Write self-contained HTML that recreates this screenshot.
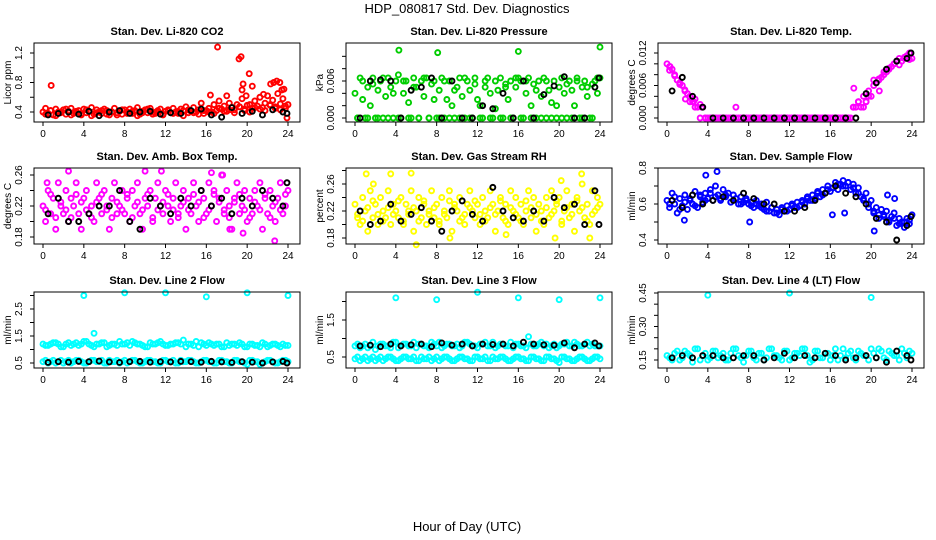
<!DOCTYPE html>
<html><head><meta charset="utf-8"><style>
html,body{margin:0;padding:0;background:#fff;}
svg{display:block;font-family:"Liberation Sans",Arial,sans-serif;}
</style></head><body>
<svg id="chart" width="936" height="540" viewBox="0 0 936 540">
<text x="467" y="13" font-size="13" text-anchor="middle">HDP_080817  Std. Dev. Diagnostics</text>
<text x="467" y="531" font-size="13" text-anchor="middle">Hour of Day (UTC)</text>
</svg>
<script>
// ---- data ----
const blackHours=[0.5,1.5,2.5,3.5,4.5,5.5,6.5,7.5,8.5,9.5,10.5,11.5,12.5,13.5,14.5,15.5,16.5,17.5,18.5,19.5,20.5,21.5,22.5,23.5,23.9];
const xTicks=[0,4,8,12,16,20,24];

const co2Main=[.40,.45,.38,.42,.36,.44,.40,.39,.43,.37,.41,.45,.38,.40,.42,.36,.44,.39,.41,.46,.37,.43,.40,.38,.44,.42,.36,.40,.45,.39,.41,.37,.43,.40,.44,.38,.42,.46,.37,.41,.43,.39,.45,.40,.38,.42,.44,.37,.41,.43,.39,.45,.40,.38,.44,.42,.47,.39,.41,.46,.40,.43,.52,.38,.42,.45,.40,.50,.42,.55,.44,.48,.41,.52,.46,.43,.50,.47,.58,.44,.49,.50,.45,.55,.48,.60,.46,.52,.62,.49,.56,.47,.65,.51,.58,.45,.50];
const co2Band=[.37,.42,.35,.40,.44,.36,.41,.38,.43,.35,.39,.42,.37,.40,.36,.43,.38,.41,.35,.39,.44,.37,.40,.36,.42,.38,.41,.35,.43,.39,.37,.42,.40,.38,.45,.41,.43,.39,.47,.42,.40,.46,.44,.42,.50,.45,.43,.48];
const co2OutHours=[0.8,16.4,17.1,18,19.2,19.4,19.5,19.6,20.2,20.5,21.6,22.3,22.6,22.9,23.2,23.4,23.6,19.9,23.9];
const co2OutVals=[0.76,0.63,1.28,0.62,1.12,1.15,0.70,0.78,0.92,0.75,0.64,0.78,0.80,0.82,0.80,0.70,0.71,0.62,0.32];
const co2Black=[.36,.38,.40,.37,.41,.35,.40,.42,.38,.40,.41,.37,.39,.38,.42,.44,.36,.33,.46,.38,.41,.36,.43,.40,.38];

const presMain=[.004,0,.0065,.003,0,.005,.002,.0065,0,.0045,.006,0,.0035,.0065,.005,0,.006,.007,0,.004,.006,.0025,0,.0065,.005,0,.006,.0035,.0065,0,.0055,.006,0,.0045,.0065,0,.003,.006,.002,0,.005,.0065,.0035,0,.006,.0045,0,.0065,.003,.002,0,.005,.0065,.004,0,.006,.0045,.0065,0,.0055,.003,.006,0,.005,.0065,.006,0,.004,.0065,.002,.0055,0,.006,.0035,.0065,0,.0045,.0025,.006,0,.005,.0065,.004,0,.006,.0045,.002,.0065,0,.005,.006,.0035,0,.0055,.006,.004,.0065];
const presBand=[0,.006,0,.0055,0,.0065,0,.004,0,.006,0,.005,0,.0065,0,.003,0,.006,0,.0045,0,.0065,0,.0055,0,.006,0,.0015,0,.005,0,.0065,0,.006,0,.0045,0,.006,0,.002,0,.0055,0,.006,0,.005,0,.0065];
const presOutHours=[4.3,8.1,16,24];
const presOutVals=[.011,.0106,.0108,.0115];
const presBlack=[0,.006,.0062,.006,0,.0045,.005,.0065,0,.006,0,0,.002,.0015,.004,0,.006,0,.0038,.0052,.0067,0,0,.005,.0065];

const tempMain=[.010,.0095,.009,.008,.007,.0065,.006,.005,.0045,.004,.003,.0035,.002,.0025,.002,0,0,0,0,0,0,0,0,0,0,0,0,.002,0,0,0,0,0,0,0,0,0,0,0,0,0,0,0,0,0,0,0,0,0,0,0,0,0,0,0,0,0,0,0,0,0,0,0,0,0,0,0,0,0,0,0,0,0,.002,.002,.003,.002,.004,.003,.005,.004,.006,.0065,.007,.0075,.008,.0085,.009,.0095,.010,.0105,.011,.0105,.011,.0115,.012,.011];
const tempBand=[.0088,.0078,.0062,.0052,.003,.002,0,0,0,0,0,0,0,0,0,0,0,0,0,0,0,0,0,0,0,0,0,0,0,0,0,0,0,0,0,0,.002,.003,.002,.004,.007,.0072,.0085,.0092,.010,.0098,.0112,.0108];
const tempOutHours=[0.3,1.0,1.8,2.6,3.4,18.3,19.5,20.8];
const tempOutVals=[.0095,.007,.0035,.003,.002,.0055,.003,.005];
const tempBlack=[.005,.0075,.004,.002,0,0,0,0,0,0,0,0,0,0,0,0,0,0,0,.0045,.0065,.0090,.0105,.011,.0120];

const ambMain=[.22,.20,.24,.21,.23,.19,.25,.22,.21,.24,.20,.23,.22,.25,.21,.19,.23,.24,.21,.22,.20,.25,.23,.21,.24,.22,.19,.23,.25,.21,.22,.24,.21,.23,.20,.24,.22,.25,.21,.19,.23,.22,.24,.20,.23,.25,.22,.21,.24,.22,.20,.23,.25,.21,.22,.24,.19,.23,.21,.25,.22,.20,.24,.23,.21,.25,.22,.24,.20,.23,.26,.21,.24,.22,.19,.23,.25,.21,.22,.24,.20,.23,.21,.24,.22,.25,.19,.23,.21,.24,.22,.20,.23,.25,.21,.22,.24];
const ambBand=[.215,.235,.205,.225,.215,.205,.235,.225,.215,.205,.225,.235,.215,.205,.225,.215,.235,.205,.225,.215,.235,.205,.215,.225,.235,.215,.205,.225,.215,.235,.225,.205,.215,.235,.225,.215,.205,.225,.235,.215,.205,.225,.215,.235,.205,.225,.215,.235];
const ambOutHours=[2.5,10,11.6,16.5,17.6,18.3,19.6,22.7,0.4];
const ambOutVals=[.265,.265,.265,.263,.26,.19,.185,.175,.25];
const ambBlack=[.21,.23,.20,.20,.21,.22,.22,.24,.20,.19,.23,.22,.21,.23,.22,.24,.22,.23,.21,.23,.22,.24,.23,.22,.25];

const rhMain=[.23,.21,.20,.24,.22,.19,.25,.21,.23,.20,.24,.22,.21,.25,.20,.23,.22,.21,.24,.20,.23,.22,.25,.19,.22,.24,.21,.23,.20,.22,.25,.21,.23,.20,.24,.22,.21,.25,.19,.23,.22,.24,.21,.20,.23,.25,.22,.21,.23,.20,.24,.22,.21,.25,.23,.19,.22,.24,.21,.23,.20,.25,.22,.24,.21,.23,.20,.22,.25,.21,.24,.19,.23,.22,.20,.24,.21,.25,.22,.23,.24,.20,.22,.25,.21,.23,.19,.24,.22,.26,.21,.23,.20,.25,.22,.24,.23];
const rhBand=[.215,.205,.225,.235,.215,.205,.225,.215,.235,.205,.215,.225,.205,.235,.215,.225,.205,.215,.235,.225,.205,.215,.225,.235,.215,.205,.225,.215,.235,.205,.225,.215,.205,.235,.225,.215,.205,.225,.215,.235,.205,.225,.215,.235,.225,.205,.215,.225];
const rhOutHours=[1.1,3.5,5.5,6,9.3,14.8,19.6,22.2,23,1.8,20.2];
const rhOutVals=[.275,.275,.276,.17,.18,.185,.18,.275,.18,.26,.265];
const rhBlack=[.22,.20,.205,.23,.205,.215,.225,.205,.19,.22,.235,.215,.205,.255,.22,.21,.205,.22,.205,.24,.225,.23,.20,.25,.20];

const flowMain=[.62,.58,.66,.60,.55,.63,.59,.65,.57,.62,.60,.67,.58,.64,.61,.66,.63,.68,.62,.70,.65,.63,.68,.64,.66,.61,.65,.63,.60,.64,.61,.63,.60,.61,.58,.62,.59,.60,.57,.61,.56,.58,.55,.57,.54,.58,.56,.59,.57,.60,.58,.61,.59,.62,.60,.64,.62,.65,.63,.67,.64,.68,.66,.70,.67,.69,.72,.68,.71,.73,.70,.72,.68,.71,.66,.69,.64,.62,.66,.58,.62,.55,.58,.52,.57,.54,.56,.50,.53,.55,.48,.52,.50,.47,.52,.49,.54];
const flowBand=[.60,.64,.57,.61,.63,.59,.65,.62,.66,.64,.62,.65,.61,.63,.60,.62,.59,.60,.58,.56,.58,.55,.57,.56,.59,.58,.61,.63,.62,.66,.65,.68,.69,.71,.70,.72,.69,.66,.63,.60,.56,.54,.53,.51,.52,.49,.50,.51];
const flowOutHours=[3.8,4.9,1.7,8.1,16.2,17.4,20.3,21.6,22.3];
const flowOutVals=[.76,.78,.51,.50,.54,.55,.45,.65,.63];
const flowBlack=[.62,.58,.65,.60,.62,.64,.62,.66,.63,.60,.60,.56,.56,.58,.62,.66,.70,.66,.64,.60,.52,.50,.40,.48,.53];

const l2Hi=[1.2,1.15,1.25,1.2,1.1,1.25,1.2,1.15,1.3,1.2,1.1,1.2,1.25,1.15,1.2,1.3,1.2,1.15,1.25,1.2,1.1,1.25,1.2,1.3,1.15,1.2,1.25,1.2,1.1,1.2,1.3,1.25,1.15,1.2,1.2,1.1,1.25,1.2,1.15,1.2,1.1,1.2,1.15,1.25,1.1,1.2,1.15,1.2,1.15];
const l2HiB=[1.15,1.2,1.25,1.1,1.2,1.15,1.25,1.2,1.3,1.15,1.2,1.25,1.1,1.2,1.15,1.2,1.25,1.3,1.2,1.15,1.1,1.2,1.25,1.2,1.15,1.2,1.25,1.35,1.2,1.15,1.1,1.2,1.25,1.15,1.2,1.1,1.15,1.2,1.25,1.1,1.2,1.15,1.1,1.2,1.15,1.2,1.1,1.15];
const l2Lo=[.55,.5,.6,.55,.5,.6,.55,.6,.5,.55,.6,.55,.5,.6,.55,.5,.6,.55,.6,.5,.55,.6,.55,.5,.6,.55,.5,.6,.55,.6,.5,.55,.6,.55,.5,.6,.55,.5,.6,.55,.45,.6,.55,.5,.6,.55,.5,.6,.55];
const l2LoB=[.6,.55,.5,.6,.55,.5,.6,.55,.5,.6,.55,.6,.5,.55,.6,.55,.5,.6,.55,.5,.6,.55,.5,.6,.55,.6,.5,.55,.6,.55,.5,.6,.55,.5,.6,.55,.5,.6,.55,.5,.6,.55,.45,.55,.6,.5,.55,.6];
const l2OutHours=[4,5,8,12,16,20,24];
const l2OutVals=[3.0,1.6,3.1,3.1,2.95,3.1,3.0];
const l2Black=[.52,.55,.53,.56,.55,.57,.54,.52,.55,.56,.53,.55,.54,.56,.55,.53,.56,.54,.52,.55,.53,.50,.54,.56,.50];

const l3Hi=[.8,.75,.85,.8,.7,.85,.8,.75,.9,.8,.85,.8,.75,.85,.8,.9,.8,.75,.85,.8,.85,.8,.9,.8,.75,.85,.8,.9,.8,.85,.8,.75,.85,.8,1.05,.8,.85,.8,.75,.85,.8,.85,.8,.9,.8,.85,.8,.8,.8];
const l3HiB=[.85,.8,.75,.9,.8,.85,.8,.9,.75,.85,.8,.9,.85,.8,.75,.85,.9,.8,.85,.8,.75,.9,.85,.8,.85,.9,.8,.75,.85,.8,.9,.85,.8,.75,.85,.8,.9,.85,.8,.75,.85,.9,.8,.85,.8,.9,.85,.8];
const l3Lo=[.45,.4,.5,.45,.4,.5,.45,.5,.4,.45,.5,.45,.4,.5,.45,.4,.5,.45,.5,.4,.45,.5,.45,.4,.5,.45,.4,.5,.45,.5,.4,.45,.5,.45,.4,.5,.45,.4,.5,.45,.35,.5,.45,.4,.5,.45,.4,.5,.45];
const l3LoB=[.5,.45,.4,.5,.45,.4,.5,.45,.4,.5,.45,.5,.4,.45,.5,.45,.4,.5,.45,.4,.5,.45,.4,.5,.45,.5,.4,.45,.5,.45,.4,.5,.45,.4,.5,.45,.4,.5,.45,.4,.5,.45,.4,.45,.5,.4,.45,.5];
const l3OutHours=[4,8,12,16,20,24];
const l3OutVals=[2.1,2.05,2.25,2.1,2.05,2.1];
const l3Black=[.8,.82,.78,.85,.8,.83,.85,.78,.88,.82,.85,.8,.85,.84,.85,.8,.9,.85,.83,.82,.88,.75,.85,.88,.8];

const l4Main=[.17,.15,.19,.16,.18,.14,.2,.17,.15,.19,.16,.18,.15,.2,.17,.14,.19,.16,.18,.15,.2,.17,.16,.19,.15,.18,.17,.2,.14,.19,.16,.18,.15,.2,.17,.16,.19,.15,.18,.17,.2,.16,.19,.15,.18,.17,.2,.16,.18];
const l4Band=[.16,.18,.15,.19,.17,.2,.15,.18,.16,.19,.17,.15,.18,.2,.16,.17,.19,.15,.18,.16,.2,.17,.15,.19,.16,.18,.2,.17,.15,.19,.16,.18,.17,.15,.2,.18,.16,.19,.17,.15,.18,.2,.16,.19,.17,.15,.18,.19];
const l4OutHours=[4,12,20];
const l4OutVals=[.44,.45,.43];
const l4Black=[.16,.17,.16,.17,.17,.16,.16,.17,.17,.15,.16,.18,.16,.17,.16,.18,.17,.15,.16,.17,.16,.14,.19,.17,.15];

// ---- rendering ----
const NS='http://www.w3.org/2000/svg';
const svg=document.getElementById('chart');
function mk(tag,attrs,parent){const e=document.createElementNS(NS,tag);for(const k in attrs)e.setAttribute(k,attrs[k]);(parent||svg).appendChild(e);return e;}

const panels=[
 {key:'co2',title:'Stan. Dev. Li-820 CO2',ylab:'Licor ppm',col:0,row:0,v0:0.4,p0:112,v1:1.2,p1:53,ticks:[.4,.6,.8,1.0,1.2],labels:[[.4,'0.4'],[.8,'0.8'],[1.2,'1.2']],color:'#ff0000',series:[co2Main,co2Band],oh:co2OutHours,ov:co2OutVals,bk:co2Black},
 {key:'pressure',title:'Stan. Dev. Li-820 Pressure',ylab:'kPa',col:1,row:0,v0:0,p0:118,v1:0.006,p1:81,ticks:[0,.002,.004,.006,.008,.010],labels:[[0,'0.000'],[.006,'0.006']],color:'#00cd00',series:[presMain,presBand],oh:presOutHours,ov:presOutVals,bk:presBlack},
 {key:'temp',title:'Stan. Dev. Li-820 Temp.',ylab:'degrees C',col:2,row:0,v0:0,p0:118,v1:0.012,p1:53,ticks:[0,.002,.004,.006,.008,.010,.012],labels:[[0,'0.000'],[.006,'0.006'],[.012,'0.012']],color:'#ff00ff',series:[tempMain,tempBand],oh:tempOutHours,ov:tempOutVals,bk:tempBlack},
 {key:'amb-temp',title:'Stan. Dev. Amb. Box Temp.',ylab:'degrees C',col:0,row:1,v0:0.18,p0:237,v1:0.26,p1:175,ticks:[.18,.20,.22,.24,.26],labels:[[.18,'0.18'],[.22,'0.22'],[.26,'0.26']],color:'#ff00ff',series:[ambMain,ambBand],oh:ambOutHours,ov:ambOutVals,bk:ambBlack},
 {key:'rh',title:'Stan. Dev. Gas Stream RH',ylab:'percent',col:1,row:1,v0:0.18,p0:238,v1:0.26,p1:184,ticks:[.18,.20,.22,.24,.26,.28],labels:[[.18,'0.18'],[.22,'0.22'],[.26,'0.26']],color:'#ffff00',series:[rhMain,rhBand],oh:rhOutHours,ov:rhOutVals,bk:rhBlack},
 {key:'sample-flow',title:'Stan. Dev. Sample Flow',ylab:'ml/min',col:2,row:1,v0:0.4,p0:240,v1:0.8,p1:168,ticks:[.4,.5,.6,.7,.8],labels:[[.4,'0.4'],[.6,'0.6'],[.8,'0.8']],color:'#0000ff',series:[flowMain,flowBand],oh:flowOutHours,ov:flowOutVals,bk:flowBlack},
 {key:'line2',title:'Stan. Dev. Line 2 Flow',ylab:'ml/min',col:0,row:2,v0:0.5,p0:363,v1:2.5,p1:309,ticks:[.5,1,1.5,2,2.5,3],labels:[[.5,'0.5'],[1.5,'1.5'],[2.5,'2.5']],color:'#00ffff',series:[l2Hi,l2HiB,l2Lo,l2LoB],oh:l2OutHours,ov:l2OutVals,bk:l2Black},
 {key:'line3',title:'Stan. Dev. Line 3 Flow',ylab:'ml/min',col:1,row:2,v0:0.5,p0:357,v1:1.5,p1:320,ticks:[.5,1,1.5,2],labels:[[.5,'0.5'],[1.5,'1.5']],color:'#00ffff',series:[l3Hi,l3HiB,l3Lo,l3LoB],oh:l3OutHours,ov:l3OutVals,bk:l3Black},
 {key:'line4',title:'Stan. Dev. Line 4 (LT) Flow',ylab:'ml/min',col:2,row:2,v0:0.15,p0:360,v1:0.45,p1:293,ticks:[.15,.2,.25,.3,.35,.4,.45],labels:[[.15,'0.15'],[.30,'0.30'],[.45,'0.45']],color:'#00ffff',series:[l4Main,l4Band],oh:l4OutHours,ov:l4OutVals,bk:l4Black}
];
const rowBox=[[43,122],[168,244],[292,368]];

panels.forEach(p=>{
  const off=p.col*312, top=rowBox[p.row][0], bot=rowBox[p.row][1];
  const L=34+off, R=300+off;
  const xs=h=>43+off+h*(245/24);
  const ys=v=>p.p0+(v-p.v0)*(p.p1-p.p0)/(p.v1-p.v0);
  const g=mk('g',{});
  
  
  const t=mk('text',{x:(L+R)/2,y:top-8,'font-size':11,'font-weight':'bold','text-anchor':'middle'},g);
  t.textContent=p.title;
  
  
  const pts=mk('g',{fill:'none','stroke-width':1.9},g);
  
  
  p.series.forEach(arr=>{
    // 97/49-length arrays span 0..24; 48-length arrays are half-step offset (0.25..23.75)
    const odd=arr.length%2===0;
    const step=odd?0.5:24/(arr.length-1);
    const start=odd?0.25:0;
    arr.forEach((v,i)=>{
      const c=mk('circle',{cx:xs(start+i*step),cy:ys(v),r:2.5,stroke:p.color},pts);
      
      
    });
  });
  p.oh.forEach((h,i)=>{
    const c=mk('circle',{cx:xs(h),cy:ys(p.ov[i]),r:2.5,stroke:p.color},pts);
    
    
  });
  p.bk.forEach((v,i)=>{
    const c=mk('circle',{cx:xs(blackHours[i]),cy:ys(v),r:2.5,stroke:'#000'},pts);
    
    
  });
  const box=mk('rect',{x:L,y:top,width:R-L,height:bot-top,fill:'none',stroke:'#000','stroke-width':1},g);
  
  
  xTicks.forEach(h=>{
    mk('line',{x1:xs(h),x2:xs(h),y1:bot,y2:bot+4,stroke:'#000'},g);
    const tl=mk('text',{x:xs(h),y:bot+15,'font-size':10,'text-anchor':'middle'},g);
    tl.textContent=h;
    
    
  });
  p.ticks.forEach(v=>{mk('line',{x1:L-4,x2:L,y1:ys(v),y2:ys(v),stroke:'#000'},g);});
  p.labels.forEach(([v,s])=>{
    const yl=mk('text',{x:0,y:0,'font-size':10,'text-anchor':'middle',transform:`translate(${22+off},${ys(v)}) rotate(-90)`},g);
    yl.textContent=s;
    
    
  });
  const yt=mk('text',{x:0,y:0,'font-size':10,'text-anchor':'middle',transform:`translate(${11+off},${(top+bot)/2}) rotate(-90)`},g);
  yt.textContent=p.ylab;
  
  
});
</script>
</body></html>
